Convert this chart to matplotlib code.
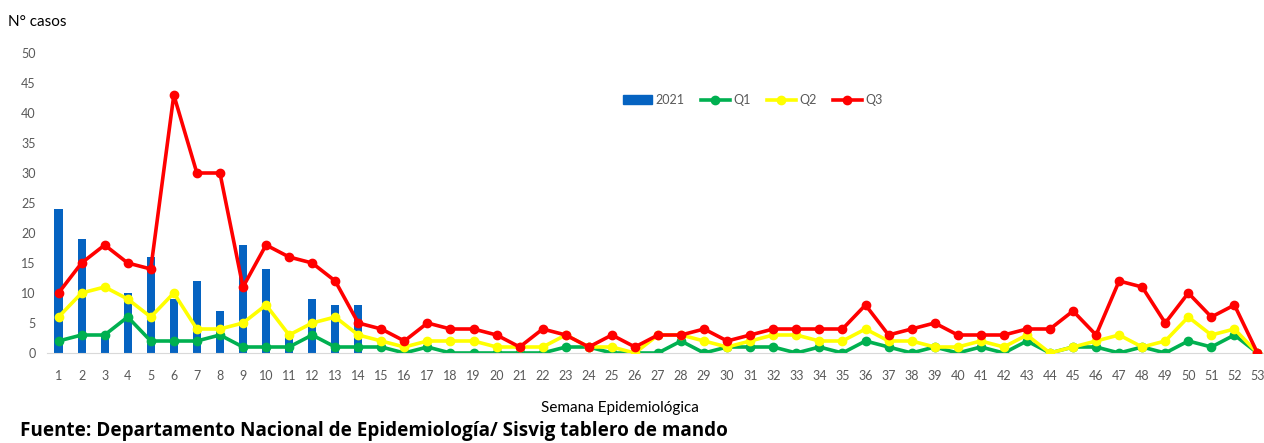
import numpy as np
import matplotlib
matplotlib.use("Agg")
import matplotlib.pyplot as plt
from matplotlib.lines import Line2D
from matplotlib.patches import Patch

# semanas epidemiológicas
semanas = list(range(1, 54))

# casos 2021 (solo semanas 1-14)
casos_2021 = [24, 19, 3, 10, 16, 9, 12, 7, 18, 14, 3, 9, 8, 8]

# canal endémico
q1 = [2, 3, 3, 6, 2, 2, 2, 3, 1, 1, 1, 3, 1, 1, 1, 0, 1, 0, 0, 0,
      0, 0, 1, 1, 0, 0, 0, 2, 0, 1, 1, 1, 0, 1, 0, 2, 1, 0, 1, 0,
      1, 0, 2, 0, 1, 1, 0, 1, 0, 2, 1, 3, 0]
q2 = [6, 10, 11, 9, 6, 10, 4, 4, 5, 8, 3, 5, 6, 3, 2, 1, 2, 2, 2, 1,
      1, 1, 3, 1, 1, 0, 3, 3, 2, 1, 2, 3, 3, 2, 2, 4, 2, 2, 1, 1,
      2, 1, 3, 0, 1, 2, 3, 1, 2, 6, 3, 4, 0]
q3 = [10, 15, 18, 15, 14, 43, 30, 30, 11, 18, 16, 15, 12, 5, 4, 2, 5, 4, 4, 3,
      1, 4, 3, 1, 3, 1, 3, 3, 4, 2, 3, 4, 4, 4, 4, 8, 3, 4, 5, 3,
      3, 3, 4, 4, 7, 3, 12, 11, 5, 10, 6, 8, 0]

gris = "#595959"
plt.rcParams['font.family'] = ['Lato', 'DejaVu Sans']

fig = plt.figure(figsize=(12.64, 4.43), dpi=100)
ax = fig.add_axes([47 / 1264, 90 / 443, 1222 / 1264, 300 / 443])

ax.bar(semanas[:len(casos_2021)], casos_2021, width=0.35, color="#0563C1", zorder=1)
ax.plot(semanas, q1, color="#00B050", lw=2.6, marker="o", ms=6, zorder=2)
ax.plot(semanas, q2, color="#FFFF00", lw=2.6, marker="o", ms=6, zorder=3)
ax.plot(semanas, q3, color="#FF0000", lw=2.6, marker="o", ms=6, zorder=4)

ax.set_xlim(0.5, 53.5)
ax.set_ylim(0, 50)
ax.set_xticks(semanas)
ax.set_yticks(range(0, 51, 5))
ax.tick_params(axis="both", length=0, labelsize=9, colors=gris)
ax.tick_params(axis="x", pad=12)
ax.tick_params(axis="y", pad=8)
for s in ["top", "right", "left"]:
    ax.spines[s].set_visible(False)
ax.spines["bottom"].set_color("#D9D9D9")
ax.patch.set_visible(False)

handles = [
    Patch(color="#0563C1"),
    Line2D([], [], color="#00B050", lw=2.6, marker="o", ms=6),
    Line2D([], [], color="#FFFF00", lw=2.6, marker="o", ms=6),
    Line2D([], [], color="#FF0000", lw=2.6, marker="o", ms=6),
]
fig.legend(handles, ["2021", "Q1", "Q2", "Q3"], ncol=4, frameon=False,
           loc="center", bbox_to_anchor=(753 / 1264, 1 - 100 / 443),
           fontsize=9, labelcolor=gris, handlelength=2.3, handletextpad=0.3,
           columnspacing=1.3)

fig.text(8 / 1264, 1 - 22 / 443, "N° casos", fontsize=11, va="center", ha="left")
fig.text(620 / 1264, 1 - 408 / 443, "Semana Epidemiológica", fontsize=11,
         va="center", ha="center")
fig.text(20 / 1264, 1 - 431 / 443,
         "Fuente: Departamento Nacional de Epidemiología/ Sisvig tablero de mando",
         fontsize=13.6, fontweight="bold", family=["Open Sans", "DejaVu Sans"],
         va="center", ha="left")

fig.savefig("out.png", dpi=100)
